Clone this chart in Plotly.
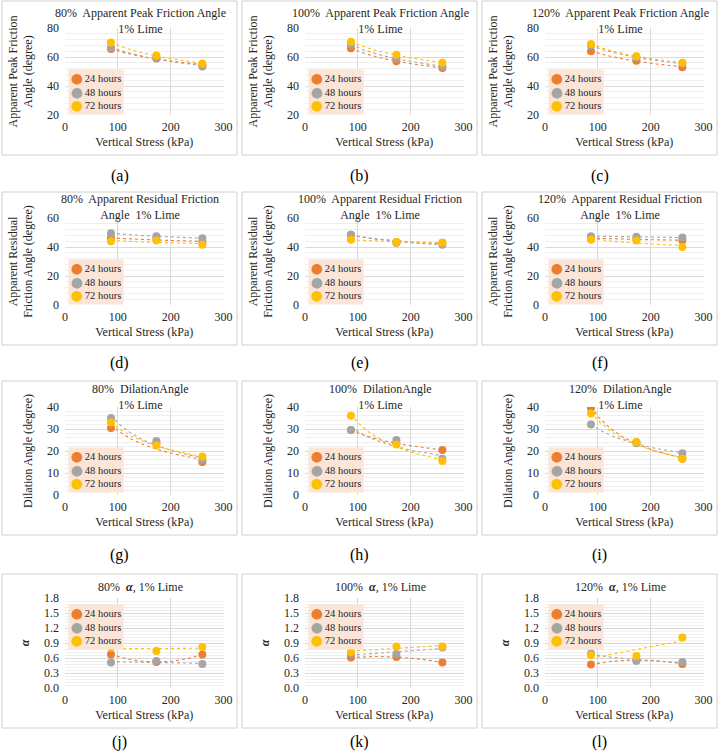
import numpy as np
import plotly.graph_objects as go

# ---------------- data ----------------
stress = [87, 173, 260]                       # vertical stress, kPa
series_names = ["24 hours", "48 hours", "72 hours"]
compactions = ["80%", "100%", "120%"]
panel_letters = ["(a)", "(b)", "(c)", "(d)", "(e)", "(f)",
                 "(g)", "(h)", "(i)", "(j)", "(k)", "(l)"]

# each list: [24 h, 48 h, 72 h] values at the three stresses
peak_80 = [[65.5, 59.0, 54.5], [66.5, 59.5, 53.5], [70.0, 61.0, 55.5]]
peak_100 = [[66.0, 57.0, 52.5], [68.5, 59.0, 53.5], [70.5, 61.5, 56.0]]
peak_120 = [[64.0, 57.5, 53.0], [68.0, 59.5, 55.5], [69.0, 60.5, 56.0]]

resid_80 = [[46.0, 45.5, 43.5], [49.5, 47.5, 46.0], [44.0, 44.5, 41.5]]
resid_100 = [[48.5, 43.0, 43.0], [48.5, 43.5, 41.5], [45.0, 43.5, 43.0]]
resid_120 = [[46.0, 45.5, 44.5], [47.5, 47.0, 46.5], [45.0, 44.5, 40.0]]

dil_80 = [[30.5, 23.5, 15.0], [35.0, 24.5, 16.0], [33.0, 22.5, 17.5]]
dil_100 = [[29.5, 23.5, 20.5], [29.5, 25.0, 16.5], [36.0, 23.0, 15.5]]
dil_120 = [[39.5, 24.0, 16.5], [32.0, 23.5, 19.0], [37.0, 24.0, 16.5]]

alpha_80 = [[0.67, 0.52, 0.67], [0.51, 0.54, 0.48], [0.81, 0.74, 0.82]]
alpha_100 = [[0.61, 0.62, 0.51], [0.68, 0.68, 0.81], [0.72, 0.83, 0.83]]
alpha_120 = [[0.47, 0.56, 0.48], [0.69, 0.54, 0.52], [0.66, 0.64, 1.01]]

# trendline type per series (Excel-style trendlines)
trend_power = ["power", "power", "power"]
trend_alpha_80 = ["poly2", "linear", "linear"]
trend_alpha_100 = ["poly2", "linear", "linear"]
trend_alpha_120 = ["poly2", "power", "linear"]

x_ticks = [0, 100, 200, 300]

# ---------------- styles / layout ----------------
colors = ["#ED7D31", "#A5A5A5", "#FFC000"]
FONT = "Liberation Serif, Times New Roman, serif"
TXT = "#262626"
W, H = 719, 755


def fnt(size, color=TXT):
    return dict(family=FONT, size=size, color=color)


rows = [
    dict(data=[peak_80, peak_100, peak_120], trends=[trend_power] * 3,
         yr=[20, 80], dt=20, mdt=4, fmt=None,
         ytitle="Apparent Peak Friction<br>Angle (degree)",
         title="{p}\u00a0 Apparent Peak Friction Angle<br>1% Lime"),
    dict(data=[resid_80, resid_100, resid_120], trends=[trend_power] * 3,
         yr=[0, 60], dt=20, mdt=4, fmt=None,
         ytitle="Apparent Residual<br>Friction Angle (degree)",
         title="{p}\u00a0 Apparent Residual Friction<br>Angle\u00a0 1% Lime"),
    dict(data=[dil_80, dil_100, dil_120], trends=[trend_power] * 3,
         yr=[0, 40], dt=10, mdt=2, fmt=None,
         ytitle="Dilation Angle (degree)",
         title="{p}\u00a0 DilationAngle<br>1% Lime"),
    dict(data=[alpha_80, alpha_100, alpha_120],
         trends=[trend_alpha_80, trend_alpha_100, trend_alpha_120],
         yr=[0, 1.8], dt=0.3, mdt=0.06, fmt=".1f",
         ytitle="<b><i>α</i></b>",
         title="{p}\u00a0 <b><i>α</i></b>, 1% Lime"),
]

# pixel geometry
col_x0 = [65, 305, 545]
plot_w = 158.5
row_top = [28, 218, 407, 598]
row_bot = [115, 305, 495, 688]
title_y = [20.5, 206.5, 396.5, 587]
box_top = [1, 192, 381, 574]
box_bot = [155, 345, 535, 728]
label_y = [176, 363, 555, 742]
box_x = [(2, 237), (242, 477), (482, 717)]
legend_top = [69, 259, 447, 604]


def px(x):
    return x / W


def py(y):
    return 1 - y / H


def trend(yvals, kind):
    x = np.array(stress, float)
    y = np.array(yvals, float)
    xs = np.linspace(x.min(), x.max(), 60)
    if kind == "power":
        b, lna = np.polyfit(np.log(x), np.log(y), 1)
        ys = np.exp(lna) * xs ** b
    elif kind == "poly2":
        ys = np.polyval(np.polyfit(x, y, 2), xs)
    else:
        ys = np.polyval(np.polyfit(x, y, 1), xs)
    return xs, ys


fig = go.Figure()
layout = dict(width=W, height=H, margin=dict(l=0, r=0, t=0, b=0, autoexpand=False),
              paper_bgcolor="white", plot_bgcolor="white", showlegend=False,
              font=fnt(12))
annotations = []
shapes = []

k = 0
for r, row in enumerate(rows):
    for c in range(3):
        k += 1
        xa = "x" if k == 1 else f"x{k}"
        ya = "y" if k == 1 else f"y{k}"
        panel = row["data"][c]
        kinds = row["trends"][c]
        # trendlines
        for s in range(3):
            xs, ys = trend(panel[s], kinds[s])
            fig.add_trace(go.Scatter(x=xs, y=ys, mode="lines", xaxis=xa, yaxis=ya,
                                     line=dict(color=colors[s], width=1.1, dash="dot"),
                                     hoverinfo="skip", showlegend=False))
        # points
        for s in range(3):
            fig.add_trace(go.Scatter(x=stress, y=panel[s], mode="markers",
                                     name=series_names[s], xaxis=xa, yaxis=ya,
                                     marker=dict(color=colors[s], size=8)))
        x0 = col_x0[c]
        layout["xaxis" + ("" if k == 1 else str(k))] = dict(
            domain=[px(x0), px(x0 + plot_w)], anchor=ya, range=[0, 300],
            tickvals=x_ticks, showgrid=True, gridcolor="#D9D9D9", zeroline=False,
            showline=False, ticks="", tickfont=fnt(12), automargin=False,
            ticklabelstandoff=3,
            title=dict(text="Vertical Stress (kPa)", font=fnt(12), standoff=4),
            fixedrange=True)
        ydict = dict(
            domain=[py(row_bot[r]), py(row_top[r])], anchor=xa, range=row["yr"],
            dtick=row["dt"], tick0=0, showgrid=True, gridcolor="#D9D9D9",
            zeroline=False, showline=False, ticks="", automargin=False,
            tickfont=fnt(12), ticklabelstandoff=5,
            minor=dict(dtick=row["mdt"], tick0=0, showgrid=True, gridcolor="#F0F0F0"),
            title=dict(text=row["ytitle"], font=fnt(12), standoff=11),
            fixedrange=True)
        if row["fmt"]:
            ydict["tickformat"] = row["fmt"]
        layout["yaxis" + ("" if k == 1 else str(k))] = ydict

        # panel title
        annotations.append(dict(text=row["title"].format(p=compactions[c]),
                                xref="paper", yref="paper",
                                x=px(x0 + 75), y=py(title_y[r]),
                                xanchor="center", yanchor="middle", showarrow=False,
                                font=fnt(12)))
        # legend box
        leg = "<br>".join(
            f"<span style='color:{colors[s]};font-family:DejaVu Sans'>⬤</span>"
            f"\u2009{series_names[s]}"
            for s in range(3))
        annotations.append(dict(text=leg, xref="paper", yref="paper",
                                x=px(x0 + 3), y=py(legend_top[r]),
                                xanchor="left", yanchor="top", align="left",
                                showarrow=False, bgcolor="#FBE5D6", borderpad=2,
                                font=fnt(10.5)))
        # sub-figure label
        bx0, bx1 = box_x[c]
        annotations.append(dict(text=panel_letters[k - 1], xref="paper", yref="paper",
                                x=px((bx0 + bx1) / 2), y=py(label_y[r]),
                                xanchor="center", yanchor="middle", showarrow=False,
                                font=fnt(16, "#000000")))
        # panel frame
        shapes.append(dict(type="rect", xref="paper", yref="paper",
                           x0=px(bx0), x1=px(bx1), y0=py(box_bot[r]), y1=py(box_top[r]),
                           line=dict(color="#D0D0D0", width=1), fillcolor="rgba(0,0,0,0)",
                           layer="below"))

layout["annotations"] = annotations
layout["shapes"] = shapes
fig.update_layout(**layout)
fig.write_html("out.html", config={"displayModeBar": False},
               post_script="document.body.style.margin='0';document.body.style.overflow='hidden';")
